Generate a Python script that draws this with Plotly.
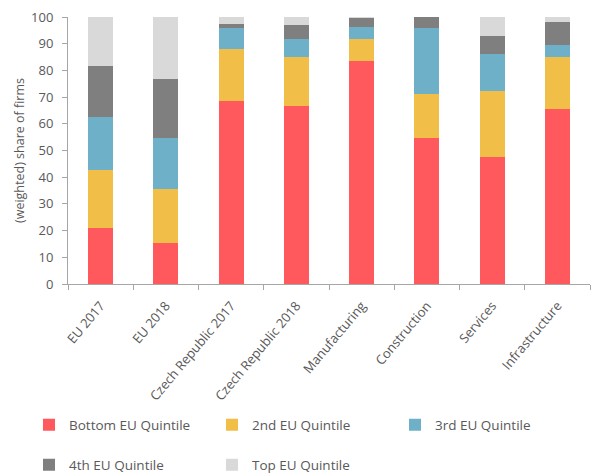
import plotly.graph_objects as go

categories = ["EU 2017", "EU 2018", "Czech Republic 2017", "Czech Republic 2018",
              "Manufacturing", "Construction", "Services", "Infrastructure"]
bottom_q = [20.8, 15.5, 68.7, 66.7, 83.4, 54.7, 47.4, 65.4]
second_q = [21.9, 20.0, 19.4, 18.4, 8.2, 16.3, 25.0, 19.7]
third_q = [19.8, 19.2, 7.8, 6.6, 4.6, 24.9, 13.7, 4.5]
fourth_q = [19.2, 22.2, 1.6, 5.2, 3.6, 4.1, 6.8, 8.4]
top_q = [18.3, 23.1, 2.5, 3.1, 0.2, 0.0, 7.1, 2.0]

series = [
    ("Bottom EU Quintile", bottom_q, "#FF585D", "legend"),
    ("2nd EU Quintile", second_q, "#F1BE48", "legend"),
    ("3rd EU Quintile", third_q, "#6FB0C9", "legend"),
    ("4th EU Quintile", fourth_q, "#7F7F7F", "legend2"),
    ("Top EU Quintile", top_q, "#D9D9D9", "legend2"),
]

fig = go.Figure()
for name, vals, color, lg in series:
    fig.add_trace(go.Bar(x=categories, y=vals, name=name, marker_color=color,
                         marker_line_width=0, legend=lg))

font_family = "Open Sans, sans-serif"
# plot area spans page y 17..284 (267 px), x 68..590 (522 px)
legend_common = dict(orientation="h", xref="paper", yref="paper",
                     xanchor="left", yanchor="middle", entrywidth=138,
                     entrywidthmode="pixels", traceorder="normal",
                     font=dict(size=13.5, color="#595959", family=font_family),
                     bgcolor="rgba(0,0,0,0)", itemclick=False, itemdoubleclick=False)

fig.update_layout(
    width=592, height=475,
    barmode="stack", bargap=0.62,
    plot_bgcolor="white", paper_bgcolor="white",
    margin=dict(l=68, r=2, t=17, b=191, autoexpand=False),
    font=dict(family=font_family, color="#595959", size=13),
    showlegend=True,
    legend=dict(x=(29 - 68) / 522, y=(284 - 425) / 267, **legend_common),
    legend2=dict(x=(29 - 68) / 522, y=(284 - 465) / 267, **legend_common),
    xaxis=dict(showline=True, linecolor="#A6A6A6", linewidth=1, ticks="outside",
               tickson="boundaries", ticklen=5, tickcolor="#A6A6A6", tickangle=-50,
               ticklabelstandoff=8,
               tickfont=dict(size=13, color="#595959"), showgrid=False, automargin=False),
    yaxis=dict(range=[0, 100], dtick=10, showline=True, linecolor="#A6A6A6", linewidth=1,
               ticks="outside", ticklen=5, tickcolor="#A6A6A6", showgrid=False, zeroline=False,
               ticklabelstandoff=6, automargin=False,
               tickfont=dict(size=13, color="#595959"),
               title=dict(text="(weighted) share of firms", font=dict(size=12.5, color="#595959"),
                          standoff=3)),
)

fig.write_html(
    "out.html",
    config={"displayModeBar": False},
    post_script="document.documentElement.style.margin='0';document.body.style.margin='0';"
                "document.body.style.overflow='hidden';",
)
